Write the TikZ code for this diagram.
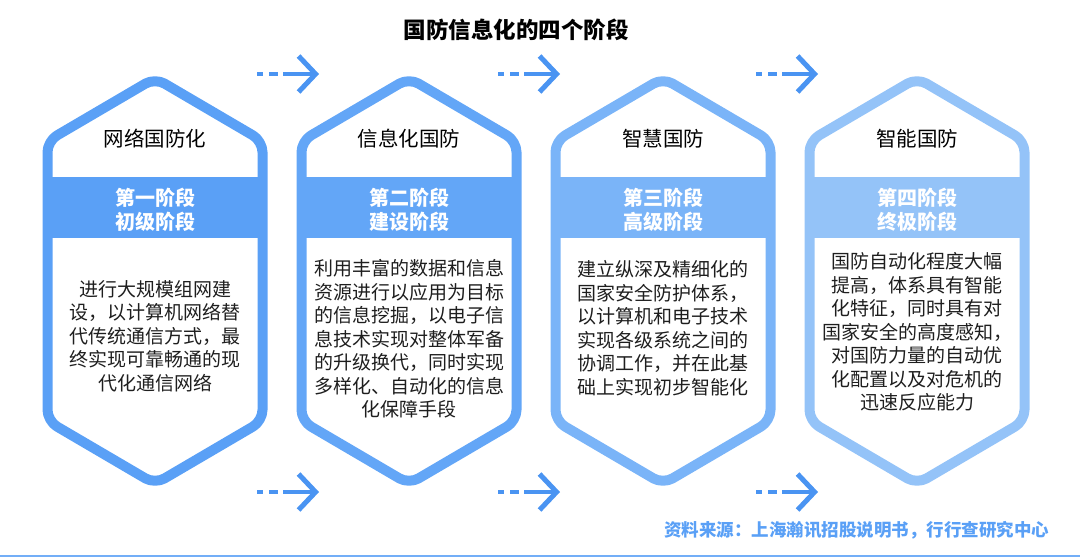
\documentclass[tikz,border=0pt]{standalone}
\usepackage{fontspec}
\setmainfont{Noto Sans CJK SC}
\usepackage{tikz}
\usetikzlibrary{arrows.meta}
\definecolor{hexA}{HTML}{5AA0F6}
\definecolor{hexB}{HTML}{63A6F7}
\definecolor{hexC}{HTML}{7AB4F8}
\definecolor{hexD}{HTML}{94C3F8}
\definecolor{arrowblue}{HTML}{4A94F2}
\definecolor{bodytext}{HTML}{1E1E1E}
\tikzset{stagename/.style={font=\fontsize{20.5}{24}\selectfont, text=black}}
\tikzset{stageband/.style={font=\bfseries\fontsize{20}{24}\selectfont, text=white, align=center}}
\tikzset{stagetext/.style={font=\fontsize{19}{23.5}\selectfont, text=bodytext, align=center}}
\tikzset{flowarrow/.style={draw=arrowblue, line width=4.5pt,
dash pattern=on 6pt off 6pt on 9pt off 5pt on 300pt,
-{Straight Barb[length=17pt, width=36pt, line width=5pt]}}}
% hexagon frame with its band: #1 centre x, #2 colour
\newcommand{\stagehex}[2]{
  \fill[#2] (#1-107.5,177) rectangle (#1+107.5,238);
  \draw[#2, line width=10pt, rounded corners=11pt, line join=round]
  (#1-107.5,300) -- (#1-107.5,141) -- (#1,78) -- (#1+107.5,141)
  -- (#1+107.5,421) -- (#1,484) -- (#1-107.5,421) -- cycle;
}

\begin{document}
\begin{tikzpicture}[x=1pt, y=-1pt]
\useasboundingbox (0,0) rectangle (1080,557);

\node [font=\bfseries\fontsize{22.5}{26}\selectfont] (title) at (516, 30) {国防信息化的四个阶段};

\stagehex{155}{hexA}
\stagehex{409}{hexB}
\stagehex{663}{hexC}
\stagehex{917}{hexD}

\node [stagename] (n1) at (155, 139) {网络国防化};
\node [stagename] (n2) at (409, 139) {信息化国防};
\node [stagename] (n3) at (663, 139) {智慧国防};
\node [stagename] (n4) at (917, 139) {智能国防};

\node [stageband] (b1) at (155, 210) {第一阶段\\初级阶段};
\node [stageband] (b2) at (409, 210) {第二阶段\\建设阶段};
\node [stageband] (b3) at (663, 210) {第三阶段\\高级阶段};
\node [stageband] (b4) at (917, 210) {第四阶段\\终极阶段};

\node [stagetext] (t1) at (155, 336) {进行大规模组网建\\设，以计算机网络替\\代传统通信方式，最\\终实现可靠畅通的现\\代化通信网络};
\node [stagetext] (t2) at (409, 339) {利用丰富的数据和信息\\资源进行以应用为目标\\的信息挖掘，以电子信\\息技术实现对整体军备\\的升级换代，同时实现\\多样化、自动化的信息\\化保障手段};
\node [stagetext] (t3) at (663, 328) {建立纵深及精细化的\\国家安全防护体系，\\以计算机和电子技术\\实现各级系统之间的\\协调工作，并在此基\\础上实现初步智能化};
\node [stagetext] (t4) at (917, 332) {国防自动化程度大幅\\提高，体系具有智能\\化特征，同时具有对\\国家安全的高度感知，\\对国防力量的自动优\\化配置以及对危机的\\迅速反应能力};

% arrows between the stages
\coordinate (a1s) at (257, 74);
\coordinate (a1e) at (319, 74);
\coordinate (a2s) at (498, 74);
\coordinate (a2e) at (560, 74);
\coordinate (a3s) at (756, 74);
\coordinate (a3e) at (818, 74);
\coordinate (c1s) at (257, 492);
\coordinate (c1e) at (319, 492);
\coordinate (c2s) at (498, 492);
\coordinate (c2e) at (560, 492);
\coordinate (c3s) at (756, 492);
\coordinate (c3e) at (818, 492);

\draw [flowarrow] (a1s) -- (a1e);
\draw [flowarrow] (a2s) -- (a2e);
\draw [flowarrow] (a3s) -- (a3e);
\draw [flowarrow] (c1s) -- (c1e);
\draw [flowarrow] (c2s) -- (c2e);
\draw [flowarrow] (c3s) -- (c3e);

\node [anchor=east, text=hexA, font=\bfseries\fontsize{17.5}{20}\selectfont] (src) at (1053, 530) {资料来源：上海瀚讯招股说明书，行行查研究中心};

\coordinate (l1) at (0, 555.5);
\coordinate (l2) at (1080, 555.5);
\draw [hexA!85, line width=2pt] (l1) -- (l2);

\end{tikzpicture}
\end{document}
